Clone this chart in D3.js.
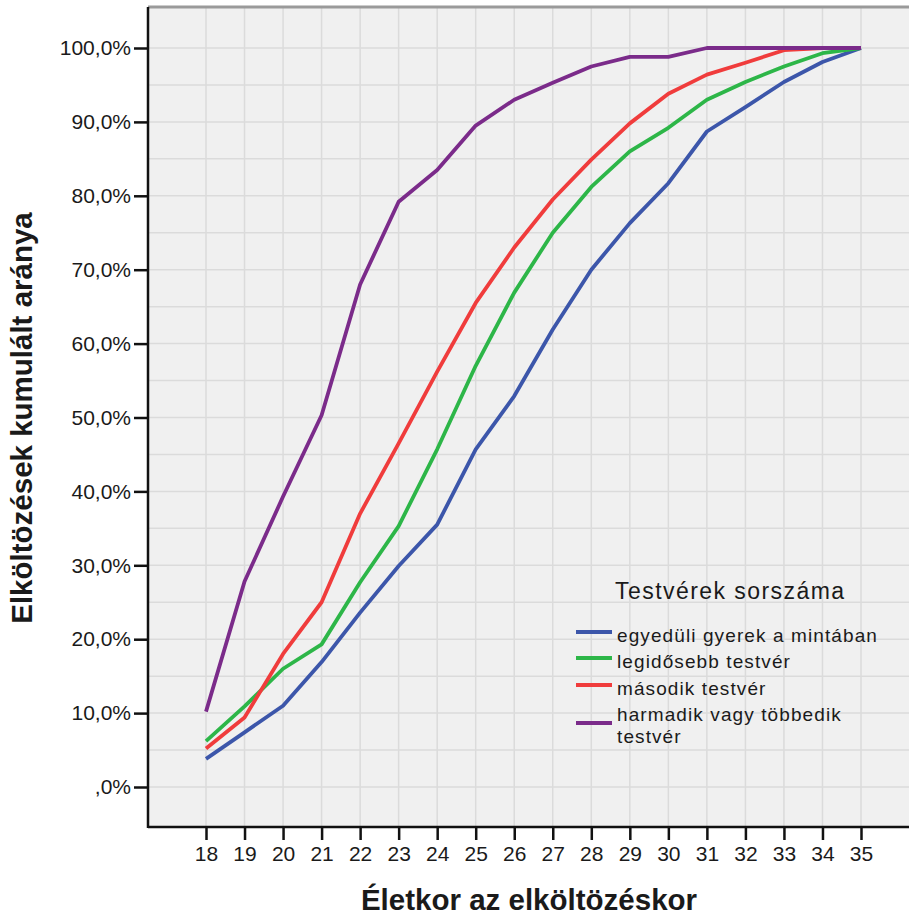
<!DOCTYPE html>
<html>
<head>
<meta charset="utf-8">
<script src="https://cdn.jsdelivr.net/npm/d3@7"></script>
<style>
  body { margin: 0; background: #fff; }
  text { font-family: "Liberation Sans", Arial, sans-serif; fill: #1a1a1a; }
</style>
</head>
<body>
<div id="vis"></div>
<script>
// ages on the x axis
let ages = [18, 19, 20, 21, 22, 23, 24, 25, 26, 27, 28, 29, 30, 31, 32, 33, 34, 35];

// cumulative share (%) per sibling order
let egyeduli   = [3.8, 7.4, 11.0, 16.9, 23.6, 29.9, 35.5, 45.7, 52.9, 61.9, 70.0, 76.3, 81.7, 88.7, 92.0, 95.4, 98.1, 100];
let legidosebb = [6.2, 10.9, 16.0, 19.3, 27.7, 35.3, 45.7, 57.0, 66.9, 75.0, 81.2, 86.0, 89.2, 93.0, 95.4, 97.5, 99.3, 100];
let masodik    = [5.2, 9.4, 18.0, 25.0, 37.0, 46.5, 56.2, 65.5, 73.0, 79.5, 84.9, 89.8, 93.8, 96.4, 98.0, 99.7, 100, 100];
let harmadik   = [10.2, 27.8, 39.3, 50.3, 68.0, 79.2, 83.5, 89.5, 93.0, 95.3, 97.5, 98.8, 98.8, 100, 100, 100, 100, 100];

let seriesColors = ["#3c56aa", "#2db648", "#f03c3c", "#7b2b8a"];
let yTicks = [0, 10, 20, 30, 40, 50, 60, 70, 80, 90, 100];

let width = 909, height = 916;
let plot = {left: 148, right: 909, top: 7, bottom: 827};

let svg = d3.select("#vis").append("svg")
  .attr("width", width)
  .attr("height", height);

let xScale = d3.scaleLinear().domain([18, 35]).range([206, 861]);
let yScale = d3.scaleLinear().domain([0, 100]).range([787, 48]);

// plot background
svg.append("rect")
  .attr("x", plot.left).attr("y", plot.top)
  .attr("width", plot.right - plot.left)
  .attr("height", plot.bottom - plot.top)
  .attr("fill", "#f0f0f0");

// grid
let grid = svg.append("g").attr("stroke", "#dbdbdb").attr("stroke-width", 1.5);
grid.selectAll("line.v")
  .data(ages)
  .join("line")
  .attr("class", "v")
  .attr("x1", d => xScale(d)).attr("x2", d => xScale(d))
  .attr("y1", plot.top).attr("y2", plot.bottom);
grid.selectAll("line.h")
  .data(d3.range(0, 101, 5))
  .join("line")
  .attr("class", "h")
  .attr("x1", plot.left).attr("x2", plot.right)
  .attr("y1", d => yScale(d)).attr("y2", d => yScale(d));

// top frame
svg.append("line")
  .attr("x1", plot.left).attr("x2", plot.right)
  .attr("y1", plot.top).attr("y2", plot.top)
  .attr("stroke", "#9a9a9a").attr("stroke-width", 3);

// series
let allSeries = [egyeduli, legidosebb, masodik, harmadik];
let line = d3.line()
  .x((d, i) => xScale(ages[i]))
  .y(d => yScale(d));

svg.append("g").selectAll("path")
  .data(allSeries)
  .join("path")
  .attr("d", d => line(d))
  .attr("fill", "none")
  .attr("stroke", (d, i) => seriesColors[i])
  .attr("stroke-width", 3.8)
  .attr("stroke-linejoin", "round");

// axes
let yAxis = d3.axisLeft(yScale)
  .tickValues(yTicks)
  .tickSize(14)
  .tickPadding(3)
  .tickFormat(d => (d == 0 ? "" : d) + ",0%");

svg.append("g")
  .attr("transform", "translate(" + plot.left + ",0)")
  .call(yAxis)
  .call(g => g.select(".domain").remove())
  .call(g => g.selectAll(".tick line").attr("stroke", "#111").attr("stroke-width", 2.5))
  .call(g => g.selectAll(".tick text")
      .attr("font-size", 21)
      .attr("font-family", "Liberation Sans, Arial, sans-serif")
      .attr("fill", "#1a1a1a"));

let xAxis = d3.axisBottom(xScale)
  .tickValues(ages)
  .tickSize(13)
  .tickPadding(6)
  .tickFormat(d3.format("d"));

svg.append("g")
  .attr("transform", "translate(0," + plot.bottom + ")")
  .call(xAxis)
  .call(g => g.select(".domain").remove())
  .call(g => g.selectAll(".tick line").attr("stroke", "#111").attr("stroke-width", 2.5))
  .call(g => g.selectAll(".tick text")
      .attr("font-size", 21)
      .attr("font-family", "Liberation Sans, Arial, sans-serif")
      .attr("fill", "#1a1a1a"));

// axis lines
svg.append("line")
  .attr("x1", plot.left).attr("x2", plot.left)
  .attr("y1", plot.top).attr("y2", plot.bottom + 1)
  .attr("stroke", "#111").attr("stroke-width", 2.5);
svg.append("line")
  .attr("x1", plot.left).attr("x2", plot.right)
  .attr("y1", plot.bottom).attr("y2", plot.bottom)
  .attr("stroke", "#111").attr("stroke-width", 2.5);

// axis titles
svg.append("text")
  .attr("x", 529).attr("y", 910)
  .attr("text-anchor", "middle")
  .attr("font-size", 29.5)
  .attr("font-weight", "bold")
  .text("Életkor az elköltözéskor");

svg.append("text")
  .attr("transform", "translate(32,418) rotate(-90)")
  .attr("text-anchor", "middle")
  .attr("font-size", 29.5)
  .attr("font-weight", "bold")
  .text("Elköltözések kumulált aránya");

// legend
let legend = svg.append("g");
legend.append("text")
  .attr("x", 615).attr("y", 599)
  .attr("font-size", 23)
  .attr("letter-spacing", 1.45)
  .text("Testvérek sorszáma");

let legendY = [632, 658, 685, 723];
legend.selectAll("line")
  .data(seriesColors)
  .join("line")
  .attr("x1", 576).attr("x2", 612)
  .attr("y1", (d, i) => legendY[i]).attr("y2", (d, i) => legendY[i])
  .attr("stroke", d => d)
  .attr("stroke-width", 3.8);

let labelLines = [["egyedüli gyerek a mintában"], ["legidősebb testvér"], ["második testvér"],
                  ["harmadik vagy többedik", "testvér"]];
let labelY = [642, 668, 695, 721];
labelLines.forEach((lines, i) => {
  let t = legend.append("text")
    .attr("x", 617).attr("y", labelY[i])
    .attr("font-size", 19)
    .attr("letter-spacing", 1.1);
  lines.forEach((s, j) => {
    t.append("tspan").attr("x", 617).attr("dy", j == 0 ? 0 : 22).text(s);
  });
});
</script>
</body>
</html>
